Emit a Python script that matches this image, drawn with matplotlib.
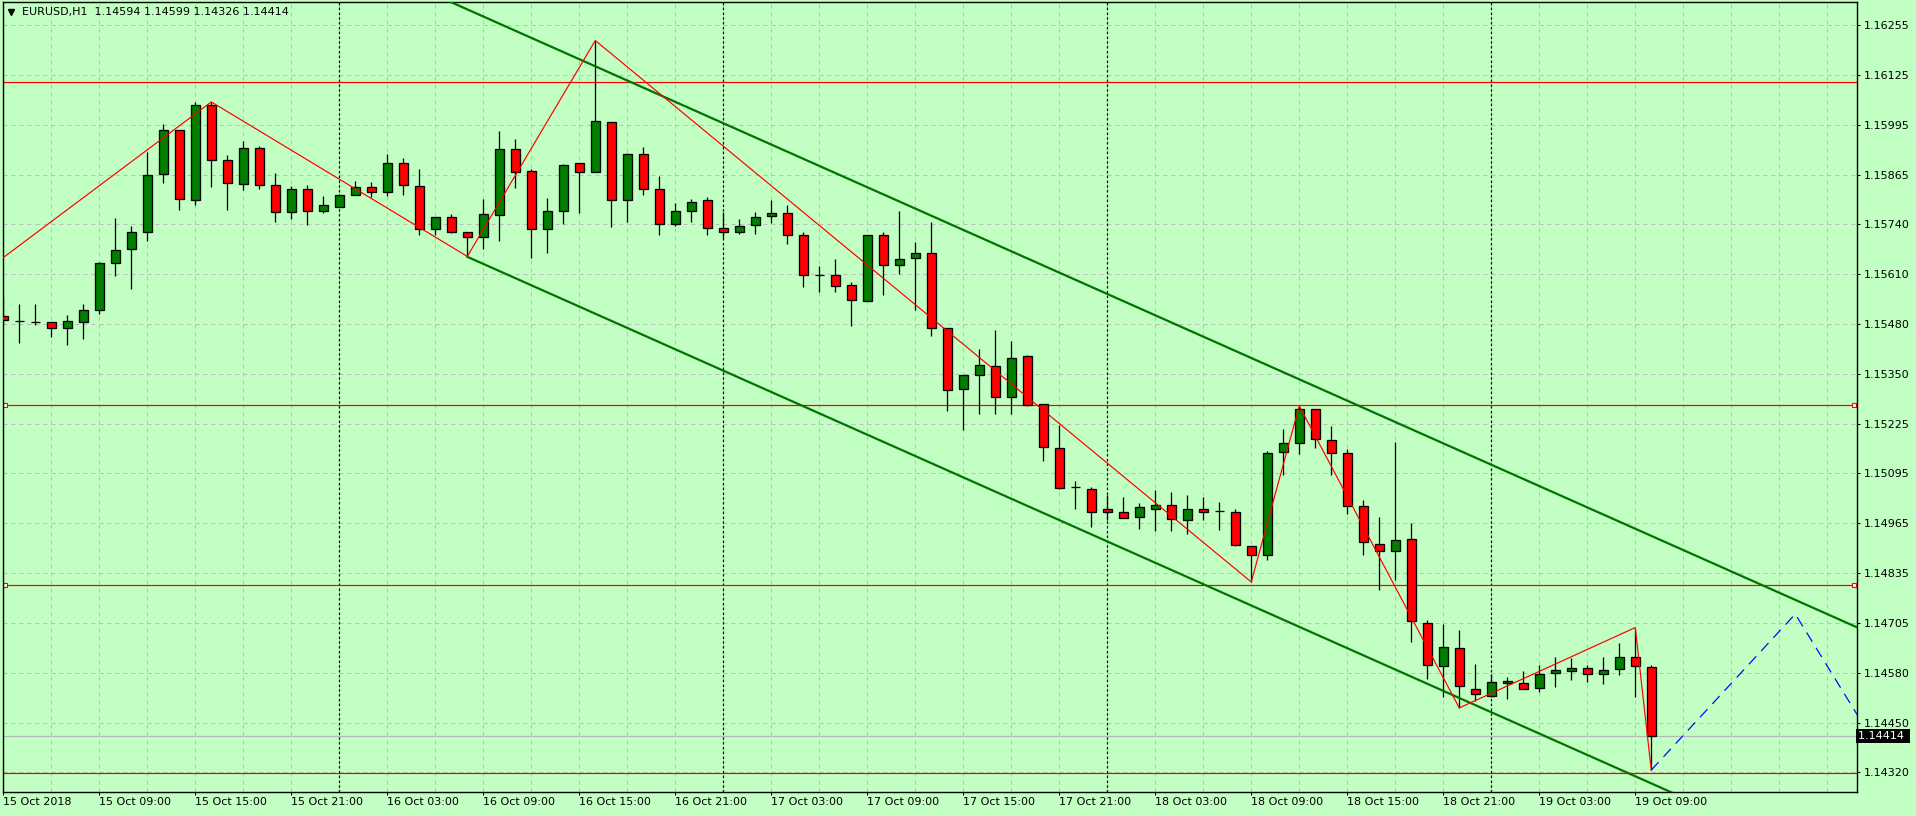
import numpy as np
import pandas as pd
import matplotlib
matplotlib.use("Agg")
import matplotlib.pyplot as plt
import matplotlib.transforms as mtransforms

# EURUSD H1 candles, first bar = 15 Oct 2018 03:00
start_time = "2018-10-15 03:00"

opens = [1.15502, 1.15490, 1.15486, 1.15485, 1.15471, 1.15487, 1.15518, 1.15638, 1.15675, 1.15720,
         1.15869, 1.15984, 1.15801, 1.16049, 1.15905, 1.15844, 1.15936, 1.15840, 1.15770, 1.15830,
         1.15773, 1.15785, 1.15816, 1.15835, 1.15824, 1.15897, 1.15839, 1.15727, 1.15757, 1.15720,
         1.15706, 1.15763, 1.15933, 1.15878, 1.15727, 1.15773, 1.15897, 1.15875, 1.16003, 1.15803,
         1.15920, 1.15830, 1.15741, 1.15773, 1.15801, 1.15730, 1.15719, 1.15738, 1.15761, 1.15769,
         1.15711, 1.15609, 1.15609, 1.15582, 1.15541, 1.15711, 1.15633, 1.15652, 1.15666, 1.15471,
         1.15313, 1.15348, 1.15371, 1.15291, 1.15397, 1.15273, 1.15160, 1.15060, 1.15055, 1.15003,
         1.14995, 1.14982, 1.15003, 1.15012, 1.14974, 1.15001, 1.14998, 1.14995, 1.14905, 1.14884,
         1.15149, 1.15173, 1.15260, 1.15181, 1.15146, 1.15009, 1.14911, 1.14892, 1.14925, 1.14708,
         1.14595, 1.14641, 1.14535, 1.14518, 1.14552, 1.14551, 1.14538, 1.14578, 1.14583, 1.14589,
         1.14575, 1.14587, 1.14620, 1.14594]
highs = [1.15552, 1.15532, 1.15532, 1.15485, 1.15505, 1.15534, 1.15642, 1.15755, 1.15734, 1.15927,
         1.15998, 1.15984, 1.16057, 1.16056, 1.15918, 1.15955, 1.15941, 1.15873, 1.15839, 1.15840,
         1.15813, 1.15818, 1.15851, 1.15848, 1.15921, 1.15910, 1.15882, 1.15759, 1.15765, 1.15720,
         1.15805, 1.15980, 1.15960, 1.15883, 1.15808, 1.15894, 1.15897, 1.16215, 1.16003, 1.15924,
         1.15940, 1.15865, 1.15793, 1.15805, 1.15809, 1.15770, 1.15753, 1.15770, 1.15803, 1.15790,
         1.15719, 1.15630, 1.15649, 1.15590, 1.15712, 1.15719, 1.15774, 1.15693, 1.15746, 1.15471,
         1.15348, 1.15416, 1.15466, 1.15437, 1.15402, 1.15273, 1.15220, 1.15074, 1.15059, 1.15039,
         1.15033, 1.15018, 1.15051, 1.15045, 1.15039, 1.15032, 1.15021, 1.15003, 1.14905, 1.15151,
         1.15210, 1.15269, 1.15260, 1.15216, 1.15157, 1.15026, 1.14982, 1.15176, 1.14966, 1.14714,
         1.14703, 1.14688, 1.14601, 1.14575, 1.14568, 1.14582, 1.14598, 1.14618, 1.14617, 1.14598,
         1.14620, 1.14655, 1.14695, 1.14599]
lows = [1.15475, 1.15431, 1.15479, 1.15448, 1.15427, 1.15441, 1.15507, 1.15604, 1.15571, 1.15697,
        1.15847, 1.15776, 1.15788, 1.15835, 1.15777, 1.15827, 1.15830, 1.15746, 1.15754, 1.15737,
        1.15769, 1.15783, 1.15814, 1.15811, 1.15812, 1.15815, 1.15712, 1.15711, 1.15716, 1.15656,
        1.15676, 1.15697, 1.15832, 1.15653, 1.15665, 1.15739, 1.15768, 1.15874, 1.15731, 1.15745,
        1.15815, 1.15711, 1.15735, 1.15745, 1.15711, 1.15703, 1.15715, 1.15715, 1.15743, 1.15689,
        1.15576, 1.15563, 1.15563, 1.15475, 1.15541, 1.15555, 1.15611, 1.15518, 1.15450, 1.15257,
        1.15206, 1.15249, 1.15247, 1.15247, 1.15269, 1.15127, 1.15053, 1.15003, 1.14955, 1.14973,
        1.14979, 1.14951, 1.14946, 1.14946, 1.14937, 1.14973, 1.14948, 1.14905, 1.14813, 1.14871,
        1.15091, 1.15144, 1.15161, 1.15091, 1.14990, 1.14882, 1.14793, 1.14819, 1.14657, 1.14562,
        1.14514, 1.14487, 1.14505, 1.14514, 1.14510, 1.14535, 1.14528, 1.14540, 1.14559, 1.14553,
        1.14549, 1.14571, 1.14514, 1.14326]
closes = [1.15491, 1.15490, 1.15486, 1.15471, 1.15490, 1.15518, 1.15638, 1.15672, 1.15720, 1.15866,
          1.15984, 1.15805, 1.16049, 1.15905, 1.15846, 1.15936, 1.15840, 1.15770, 1.15830, 1.15773,
          1.15790, 1.15816, 1.15835, 1.15824, 1.15897, 1.15840, 1.15727, 1.15757, 1.15720, 1.15707,
          1.15765, 1.15933, 1.15875, 1.15727, 1.15773, 1.15892, 1.15874, 1.16006, 1.15803, 1.15920,
          1.15831, 1.15741, 1.15773, 1.15796, 1.15730, 1.15719, 1.15735, 1.15759, 1.15769, 1.15711,
          1.15609, 1.15609, 1.15580, 1.15544, 1.15712, 1.15633, 1.15650, 1.15664, 1.15471, 1.15311,
          1.15348, 1.15374, 1.15291, 1.15394, 1.15272, 1.15163, 1.15057, 1.15060, 1.14995, 1.14993,
          1.14979, 1.15006, 1.15012, 1.14977, 1.15003, 1.14995, 1.14998, 1.14909, 1.14884, 1.15148,
          1.15172, 1.15262, 1.15184, 1.15148, 1.15010, 1.14917, 1.14892, 1.14923, 1.14712, 1.14598,
          1.14644, 1.14544, 1.14524, 1.14555, 1.14556, 1.14535, 1.14576, 1.14584, 1.14590, 1.14575,
          1.14584, 1.14620, 1.14595, 1.14414]

# zigzag pivots (bar index, price)
zigzag_bars = [-1, 13, 29, 37, 78, 81, 91, 102, 103]
zigzag_prices = [1.15622, 1.16056, 1.15656, 1.16215, 1.14813, 1.15269, 1.14487, 1.14695, 1.14326]

# projected zigzag (blue dashed)
proj_bars = [103, 112, 118]
proj_prices = [1.14326, 1.14730, 1.14326]

# equidistant channel
chan_upper_bars = [28, 116]
chan_upper_prices = [1.16314, 1.14693]
chan_lower_bars = [29, 116]
chan_lower_prices = [1.15655, 1.14052]

# horizontal levels
levels = [1.16107, 1.15271, 1.14804, 1.14318]
levels_selected = [False, True, True, False]

y_tick_labels = ["1.14320", "1.14450", "1.14580", "1.14705", "1.14835", "1.14965", "1.15095", "1.15225",
                 "1.15350", "1.15480", "1.15610", "1.15740", "1.15865", "1.15995", "1.16125", "1.16255"]

bg = "#c2ffc2"
grid_col = "#bcbcbc"
px = 0.72  # 1 pixel in points at dpi 100

n = len(opens)
x = np.arange(n)
o = np.array(opens)
h = np.array(highs)
l = np.array(lows)
c = np.array(closes)
times = pd.date_range(start_time, periods=n, freq="h")

fig = plt.figure(figsize=(19.16, 8.16), dpi=100, facecolor=bg)
ax = fig.add_axes([2.5 / 1916, 24.3 / 816, 1854.2 / 1916, 790.2 / 816])
ax.set_facecolor(bg)
ax.set_xlim(-0.05, 115.84)
ax.set_ylim(1.14270, 1.16316)

# grid
y_ticks = np.linspace(1.14320, 1.16255, len(y_tick_labels))
for yv in y_ticks:
    ax.axhline(yv, color=grid_col, lw=px, ls=(0, (4, 4)), zorder=1)
for xv in range(0, 117, 3):
    ax.axvline(xv, color=grid_col, lw=px, ls=(0, (4, 4)), zorder=1)

# day separators
for i in np.where(times.hour == 0)[0]:
    ax.axvline(i, color="black", lw=px * 1.2, ls=(0, (2, 2)), zorder=1.5)

# bid line
ax.axhline(closes[-1], color="#b8b8b8", lw=px * 1.2, zorder=1.6)

# horizontal levels
trans_h = mtransforms.blended_transform_factory(ax.transAxes, ax.transData)
for lv, sel in zip(levels, levels_selected):
    ax.axhline(lv, color="red", lw=px * 1.2, zorder=2)
    if sel:
        ax.plot([0.0015, 0.9985], [lv, lv], ls="none", marker="s", ms=3.5,
                mfc="white", mec="red", mew=0.8, transform=trans_h, zorder=2.1)

# candles
ax.vlines(x, l, h, color="black", lw=px * 1.3, zorder=3)
colors = np.where(c > o, "#008000", "#ff0000")
ax.bar(x, np.abs(c - o), bottom=np.minimum(o, c), width=0.56, color=colors,
       edgecolor="black", linewidth=px * 1.3, zorder=4)

# channel
ax.plot(chan_upper_bars, chan_upper_prices, color="#007400", lw=1.6, zorder=5)
ax.plot(chan_lower_bars, chan_lower_prices, color="#007400", lw=1.6, zorder=5)

# zigzag
ax.plot(zigzag_bars, zigzag_prices, color="red", lw=px * 1.2, zorder=6)
ax.plot(proj_bars, proj_prices, color="blue", lw=px * 1.2, ls=(0, (9, 6)), zorder=6)

# axes styling
for s in ax.spines.values():
    s.set_color("black")
    s.set_linewidth(px * 1.4)
ax.yaxis.tick_right()
ax.set_yticks(y_ticks)
ax.set_yticklabels(y_tick_labels)
tick_idx = list(range(0, n, 6))
x_labels = [times[0].strftime("%d %b %Y")] + [times[i].strftime("%d %b %H:%M") for i in tick_idx[1:]]
ax.set_xticks(tick_idx)
ax.set_xticklabels(x_labels)
for lab in ax.get_xticklabels():
    lab.set_ha("left")
ax.tick_params(axis="both", colors="black", labelsize=8, length=2.5, width=px, direction="out")
ax.tick_params(axis="y", pad=2.5)
ax.tick_params(axis="x", pad=1.5)

# bid label
ax.text(1.0008, closes[-1], f"{closes[-1]:.5f} ", transform=trans_h, ha="left", va="center",
        fontsize=8, color="white", clip_on=False,
        bbox=dict(boxstyle="square,pad=0.2", fc="black", ec="none"), zorder=10)

# header
ax.plot([0.0047], [0.9868], marker="v", ms=5, color="black", transform=ax.transAxes, clip_on=False)
ax.text(0.01035, 0.9863,
        f"EURUSD,H1  {opens[-1]:.5f} {highs[-1]:.5f} {lows[-1]:.5f} {closes[-1]:.5f}",
        transform=ax.transAxes, fontsize=8, va="center", ha="left", color="black", zorder=10)

fig.savefig("out.png", dpi=100, facecolor=bg)
